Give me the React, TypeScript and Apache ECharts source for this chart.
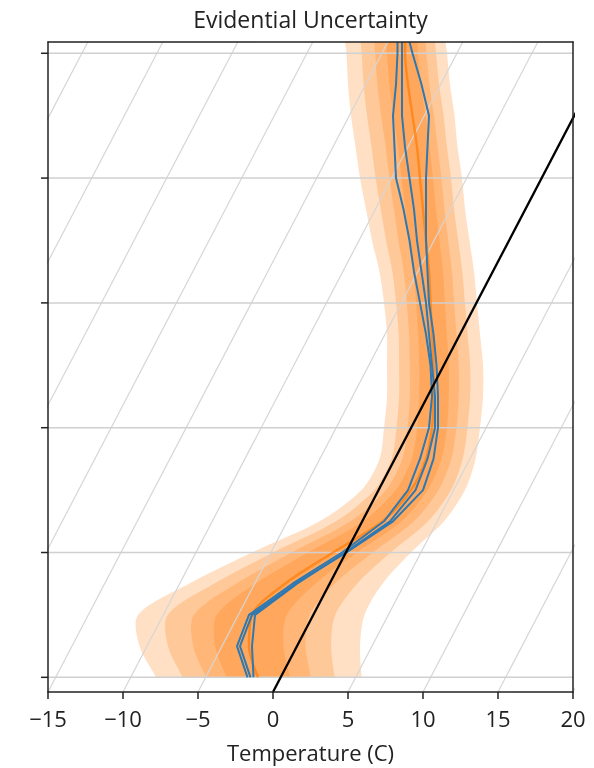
import React, { useEffect, useRef } from "react";
import * as echarts from "echarts";

// ---- texts ----
const chartTitle = "Evidential Uncertainty";
const xAxisName = "Temperature (C)";

// ---- axes ----
const xMin = -15;
const xMax = 20;
const xStep = 5;
const levelTicks = [0, 1, 2, 3, 4, 5];
const levelMin = -0.1176;
const levelMax = 5.0904;
// slant of the skewed isotherms: degrees C per level unit
const skewPerLevel = 4.35;
const isotherms = [-45, -40, -35, -30, -25, -20, -15, -10, -5, 0, 5, 10, 15, 20];

// ---- profile levels (bottom to top) ----
const levels = [0, 0.25, 0.5, 0.75, 1.0, 1.25, 1.5, 1.75, 2.0, 2.25, 2.5, 2.75, 3.0, 3.25, 3.5, 3.75, 4.0, 4.25, 4.5, 4.75, 5.0, 5.0904];

// outer uncertainty envelope (plotted temperature) and the centre line
const bandLeft = [-7.8, -8.9, -9.0, -5.6, -1.4, 3.1, 5.9, 7.1, 7.4, 7.6, 7.6, 7.6, 7.4, 7.1, 6.6, 6.2, 5.8, 5.5, 5.2, 5.0, 4.9, 4.8];
const bandRight = [5.9, 5.8, 6.1, 7.3, 9.2, 11.4, 12.8, 13.5, 13.8, 14.0, 14.0, 13.8, 13.6, 13.4, 13.1, 12.8, 12.6, 12.3, 12.1, 11.8, 11.6, 11.5];
const bandMean = [-1.0, -1.6, -1.4, 0.8, 4.0, 7.3, 9.2, 10.2, 10.6, 10.7, 10.7, 10.6, 10.5, 10.4, 10.2, 10.0, 9.8, 9.6, 9.3, 9.0, 8.8, 8.8];
// nested shading levels, as a share of the outer envelope
const bandShares = [1, 0.74, 0.51, 0.31];

// blue profiles
const profileA = [-1.7, -2.4, -1.6, 1.3, 4.6, 7.4, 9.0, 9.8, 10.4, 10.6, 10.5, 10.2, 9.8, 9.4, 9.1, 8.7, 8.2, 8.1, 8.0, 8.2, 8.3, 8.3];
const profileB = [-1.3, -1.4, -1.2, 1.6, 4.8, 7.8, 9.5, 10.3, 10.8, 10.8, 10.6, 10.4, 10.2, 9.9, 9.6, 9.4, 9.1, 8.8, 8.6, 8.6, 8.6, 8.6];
const profileC = [-1.5, -2.2, -1.4, 1.5, 4.9, 8.0, 10.0, 10.7, 11.0, 11.0, 10.9, 10.7, 10.4, 10.3, 10.2, 10.2, 10.2, 10.3, 10.4, 9.9, 9.3, 9.1];

const FONT = "'Open Sans', 'Noto Sans', sans-serif";

export default function App() {
  const ref = useRef<HTMLDivElement>(null);

  useEffect(() => {
    if (!ref.current) return;
    const chart = echarts.init(ref.current, null, { renderer: "svg" });
    const span = levelMax - levelMin;
    const gridLeft = 48;
    const gridWidth = 525;

    const frameAxis = { show: true, onZero: false, lineStyle: { color: "#222", width: 1.5 } };

    const isoSeries = isotherms.map((t) => ({
      type: "line",
      data: [
        [t, levelMin],
        [t + skewPerLevel * span, levelMax],
      ],
      symbol: "none",
      silent: true,
      clip: true,
      lineStyle: { color: "#d6d6d6", width: 1.2 },
      z: 3,
    }));

    const profileSeries = [profileA, profileB, profileC].map((p) => ({
      type: "line",
      data: levels.map((l, i) => [p[i], l]),
      symbol: "none",
      silent: true,
      lineStyle: { color: "#2f78b0", width: 2 },
      z: 5,
    }));

    const option: any = {
      animation: false,
      grid: { left: gridLeft, top: 42, width: gridWidth, height: 651, show: false },
      graphic: [
        {
          type: "text",
          x: gridLeft + gridWidth / 2,
          y: 19,
          style: {
            text: chartTitle,
            fontSize: 23,
            fontFamily: FONT,
            fill: "#222",
            textAlign: "center",
            textVerticalAlign: "middle",
          },
        },
      ],
      xAxis: [
        {
          type: "value",
          min: xMin,
          max: xMax,
          interval: xStep,
          position: "bottom",
          z: 10,
          axisLine: frameAxis,
          axisTick: { show: true, length: 7, lineStyle: { color: "#222", width: 1.5 } },
          axisLabel: {
            fontSize: 22,
            fontFamily: FONT,
            color: "#222",
            margin: 15,
            formatter: (v: number) => (v < 0 ? "\u2212" + Math.abs(v) : String(v)),
          },
          splitLine: { show: false },
          name: xAxisName,
          nameLocation: "middle",
          nameGap: 49,
          nameTextStyle: { fontSize: 22, fontFamily: FONT, color: "#222" },
        },
        {
          type: "value",
          min: xMin,
          max: xMax,
          interval: xStep,
          position: "top",
          z: 10,
          axisLine: frameAxis,
          axisTick: { show: false },
          axisLabel: { show: false },
          splitLine: { show: false },
        },
      ],
      yAxis: [
        {
          type: "value",
          min: levelMin,
          max: levelMax,
          position: "left",
          z: 10,
          axisLine: frameAxis,
          axisTick: { show: false },
          axisLabel: { show: false },
          splitLine: { show: false },
        },
        {
          type: "value",
          min: levelMin,
          max: levelMax,
          position: "right",
          z: 10,
          axisLine: frameAxis,
          axisTick: { show: false },
          axisLabel: { show: false },
          splitLine: { show: false },
        },
      ],
      series: [
        {
          type: "custom",
          silent: true,
          z: 1,
          data: bandShares.map((s, i) => [i, 0]),
          renderItem: (params: any, api: any) => {
            const s = bandShares[params.dataIndex];
            const leftPts: number[][] = [];
            const rightPts: number[][] = [];
            for (let i = 0; i < levels.length; i++) {
              const xl = bandMean[i] + s * (bandLeft[i] - bandMean[i]);
              const xr = bandMean[i] + s * (bandRight[i] - bandMean[i]);
              leftPts.push(api.coord([xl, levels[i]]));
              rightPts.push(api.coord([xr, levels[i]]));
            }
            rightPts.reverse();
            const n = leftPts.length;
            // repeat the corner points so that smoothing keeps them sharp
            const pts = [
              leftPts[0],
              ...leftPts,
              leftPts[n - 1],
              rightPts[0],
              ...rightPts,
              rightPts[n - 1],
            ];
            return {
              type: "polygon",
              shape: { points: pts, smooth: 0.3 },
              style: { fill: "rgba(255,127,14,0.24)", stroke: "none" },
            };
          },
        },
        {
          type: "custom",
          silent: true,
          z: 4,
          clip: false,
          data: levelTicks.map((l) => [xMin, l]),
          renderItem: (params: any, api: any) => {
            const l = api.value(1);
            const a = api.coord([xMin, l]);
            const b = api.coord([xMax, l]);
            return {
              type: "group",
              children: [
                {
                  type: "line",
                  shape: { x1: a[0], y1: a[1], x2: b[0], y2: b[1] },
                  style: { stroke: "#d0d0d0", lineWidth: 1.5 },
                },
                {
                  type: "line",
                  shape: { x1: a[0] - 7, y1: a[1], x2: a[0], y2: a[1] },
                  style: { stroke: "#222", lineWidth: 1.5 },
                },
              ],
            };
          },
        },
        ...isoSeries,
        {
          type: "line",
          data: levels.map((l, i) => [bandMean[i], l]),
          symbol: "none",
          silent: true,
          smooth: 0.3,
          lineStyle: { color: "#ff7f0e", width: 2.5, opacity: 0.75 },
          z: 4,
        },
        ...profileSeries,
        {
          type: "line",
          data: [
            [0, levelMin],
            [skewPerLevel * span, levelMax],
          ],
          symbol: "none",
          silent: true,
          clip: true,
          lineStyle: { color: "#000", width: 2.3 },
          z: 6,
        },
      ],
    };

    chart.setOption(option);
    return () => chart.dispose();
  }, []);

  return (
    <div
      ref={ref}
      style={{ position: "fixed", left: 0, top: 0, width: 594, height: 768 }}
    />
  );
}
